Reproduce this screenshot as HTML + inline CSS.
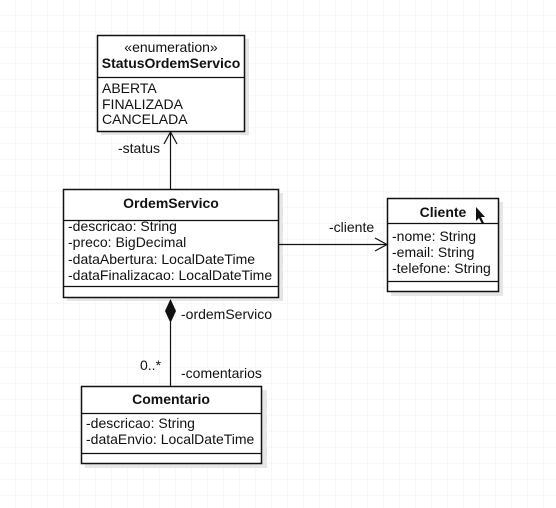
<!DOCTYPE html>
<html><head><meta charset="utf-8"><style>
html,body{margin:0;padding:0;background:#fff;}
svg{display:block;}
text{font-family:"Liberation Sans",sans-serif;font-size:14px;fill:#111;}
.b{font-weight:bold;}
</style></head><body>
<svg width="556" height="508" viewBox="0 0 556 508" xmlns="http://www.w3.org/2000/svg">
<defs>
<pattern id="g" width="16" height="16" patternUnits="userSpaceOnUse">
<path d="M16 0V16H0" fill="none" stroke="#f0f0f0" stroke-width="1"/>
</pattern>
</defs>
<rect width="556" height="508" fill="url(#g)"/>
<g fill="#e6e6e6">
<rect x="101" y="39" width="148" height="96"/>
<rect x="67" y="193" width="216" height="108"/>
<rect x="391" y="202" width="112" height="94"/>
<rect x="85" y="390" width="182" height="78"/>
</g>
<g fill="#fff" stroke="#111" stroke-width="1.5">
<rect x="97.5" y="35.5" width="147" height="96"/>
<rect x="63.5" y="189.5" width="215" height="108"/>
<rect x="387.5" y="198.5" width="111" height="93"/>
<rect x="81.5" y="386.5" width="180" height="77"/>
</g>
<g stroke="#111" stroke-width="1.2" fill="none">
<line x1="97" y1="77.5" x2="245" y2="77.5"/>
<line x1="63" y1="220.5" x2="279" y2="220.5"/>
<line x1="63" y1="286.5" x2="279" y2="286.5"/>
<line x1="387" y1="223.5" x2="499" y2="223.5"/>
<line x1="387" y1="281.5" x2="499" y2="281.5"/>
<line x1="81" y1="413.5" x2="262" y2="413.5"/>
<line x1="81" y1="453.5" x2="262" y2="453.5"/>
<line x1="170.5" y1="189" x2="170.5" y2="132"/>
<polyline points="164,144 170.5,132 177,144"/>
<line x1="279" y1="244.5" x2="387" y2="244.5"/>
<polyline points="375,238 387,244.5 375,251"/>
<line x1="170.5" y1="322" x2="170.5" y2="386"/>
</g>
<polygon points="170.5,299 176,311 170.5,323 165,311" fill="#111"/>
<polygon points="476,207 476,221 479,218 482,224 484,223 481,217 485,217" fill="#111"/>
<text x="171" y="52" text-anchor="middle">«enumeration»</text>
<text x="171" y="68" text-anchor="middle" class="b">StatusOrdemServico</text>
<text x="102" y="93">ABERTA</text>
<text x="102" y="109">FINALIZADA</text>
<text x="102" y="124">CANCELADA</text>
<text x="118" y="153">-status</text>
<text x="171" y="208" text-anchor="middle" class="b">OrdemServico</text>
<text x="68" y="231">-descricao: String</text>
<text x="68" y="247">-preco: BigDecimal</text>
<text x="68" y="264">-dataAbertura: LocalDateTime</text>
<text x="68" y="280">-dataFinalizacao: LocalDateTime</text>
<text x="329" y="232">-cliente</text>
<text x="443" y="217" text-anchor="middle" class="b">Cliente</text>
<text x="392" y="241">-nome: String</text>
<text x="392" y="257">-email: String</text>
<text x="392" y="273">-telefone: String</text>
<text x="181" y="319">-ordemServico</text>
<text x="140" y="370">0..*</text>
<text x="181" y="378">-comentarios</text>
<text x="171" y="404" text-anchor="middle" class="b">Comentario</text>
<text x="86" y="428">-descricao: String</text>
<text x="86" y="444">-dataEnvio: LocalDateTime</text>
</svg>
</body></html>
